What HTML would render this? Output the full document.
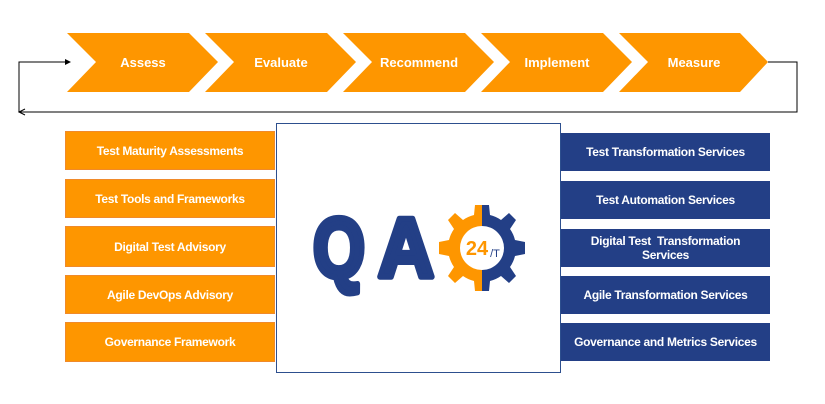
<!DOCTYPE html>
<html><head><style>
body{margin:0;width:825px;height:404px;background:#fff;position:relative;overflow:hidden;font-family:"Liberation Sans",Arial,sans-serif}
.b{position:absolute;color:#fff;font-weight:bold;font-size:12px;display:flex;align-items:center;justify-content:center;text-align:center;line-height:14px;box-sizing:border-box;letter-spacing:-0.3px}
.o{background:#fe9600;border:1px solid #f08a2a;left:65px;width:210px}
.n{background:#233f86;left:561px;width:209px}
</style></head><body>
<svg width="825" height="404" style="position:absolute;left:0;top:0">
<g fill="#fe9600">
<polygon points="67,33 189,33 218,62 189,92 67,92 96,62"/>
<polygon points="205,33 327,33 356,62 327,92 205,92 234,62"/>
<polygon points="343,33 465,33 494,62 465,92 343,92 372,62"/>
<polygon points="481,33 603,33 632,62 603,92 481,92 510,62"/>
<polygon points="619,33 740,33 768,62 740,92 619,92 648,62"/>
</g>
<g fill="#fff" font-weight="bold" font-size="13" text-anchor="middle" font-family="Liberation Sans,Arial,sans-serif">
<text x="143" y="67">Assess</text><text x="281" y="67">Evaluate</text><text x="419" y="67">Recommend</text><text x="557" y="67">Implement</text><text x="694" y="67">Measure</text>
</g>
<polyline points="768,62 797,62 797,112 19,112 19,62 66,62" fill="none" stroke="#000" stroke-width="1"/>
<polygon points="71,62 65,59 65,65" fill="#000"/>
<path d="M25,109 L19,112 L25,115" fill="none" stroke="#000"/>
<rect x="276.5" y="123.5" width="284" height="249" fill="#fff" stroke="#2d4f8e"/>
<g font-size="84" font-weight="bold" fill="#233f86" stroke="#233f86" stroke-width="6" stroke-linejoin="round" font-family="Liberation Sans,Arial,sans-serif">
<text x="313" y="277" textLength="52" lengthAdjust="spacingAndGlyphs">Q</text>
<text x="378" y="277" textLength="56" lengthAdjust="spacingAndGlyphs">A</text>
</g>
<g transform="translate(482,248)">
<path fill="#fe9600" d="M0,-43 L0,43 L-7,43 L-8,33 A33,33 0 0 1 -19,28 L-27,35 L-34,28 L-28,19 A33,33 0 0 1 -33,8 L-43,6 L-43,-6 L-33,-8 A33,33 0 0 1 -28,-19 L-34,-28 L-27,-35 L-19,-28 A33,33 0 0 1 -8,-33 L-7,-43 Z"/>
<path fill="#233f86" d="M0,-43 L0,43 L7,43 L8,33 A33,33 0 0 0 19,28 L27,35 L34,28 L28,19 A33,33 0 0 0 33,8 L43,6 L43,-6 L33,-8 A33,33 0 0 0 28,-19 L34,-28 L27,-35 L19,-28 A33,33 0 0 0 8,-33 L7,-43 Z"/>
<circle r="22" fill="#fff"/>
<text x="-5" y="7" font-size="20" font-weight="bold" fill="#fe9600" text-anchor="middle" font-family="Liberation Sans,Arial,sans-serif">24</text>
<text x="13" y="9" font-size="11" fill="#233f86" text-anchor="middle" font-family="Liberation Sans,Arial,sans-serif">/T</text>
</g>
</svg>
<div class="b o" style="top:131px;height:39px">Test Maturity Assessments</div>
<div class="b o" style="top:179px;height:39px">Test Tools and Frameworks</div>
<div class="b o" style="top:226px;height:41px">Digital Test Advisory</div>
<div class="b o" style="top:275px;height:39px">Agile DevOps Advisory</div>
<div class="b o" style="top:322px;height:40px">Governance Framework</div>
<div class="b n" style="top:133px;height:38px">Test Transformation Services</div>
<div class="b n" style="top:181px;height:38px">Test Automation Services</div>
<div class="b n" style="top:229px;height:38px">Digital Test&nbsp; Transformation<br>Services</div>
<div class="b n" style="top:276px;height:38px">Agile Transformation Services</div>
<div class="b n" style="top:323px;height:38px">Governance and Metrics Services</div>
</body></html>
